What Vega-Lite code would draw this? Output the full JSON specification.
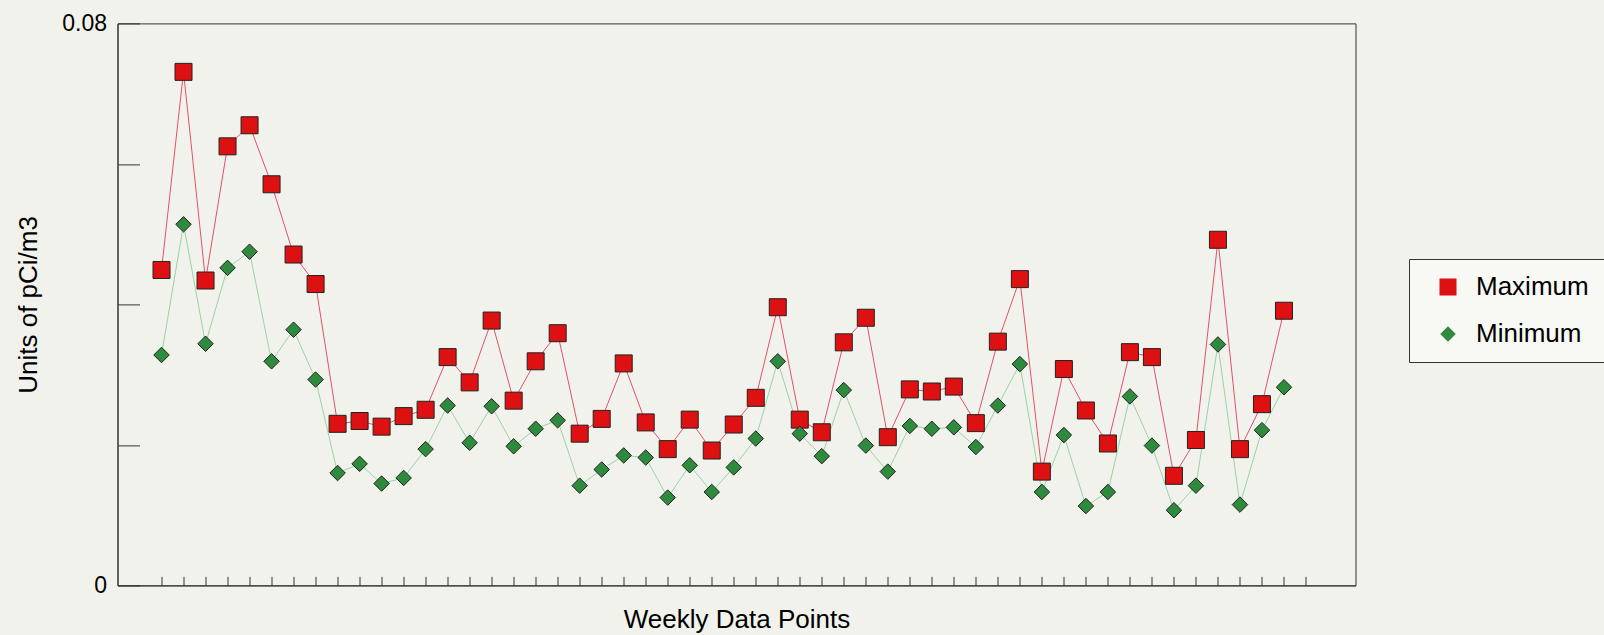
{
  "$schema": "https://vega.github.io/schema/vega-lite/v6.json",
  "autosize": "none",
  "width": 1238,
  "height": 562,
  "padding": {"left": 117.5, "top": 23.4, "right": 248.5, "bottom": 49.6},
  "background": "#f2f2ec",
  "config": {
    "font": "Liberation Sans",
    "view": {"stroke": "#333333", "strokeWidth": 1, "fill": "#f2f2ec"},
    "axis": {"grid": false, "domainColor": "#333333", "tickColor": "#333333", "labelColor": "#000000", "titleColor": "#000000", "titleFontWeight": "normal", "labelFont": "Liberation Sans", "titleFont": "Liberation Sans"},
    "legend": {
      "title": null, "orient": "none", "legendX": 1291.5, "legendY": 235.6,
      "labelFontSize": 26, "labelFont": "Liberation Sans", "labelColor": "#000000",
      "symbolStrokeColor": "#222222", "symbolStrokeWidth": 1,
      "padding": 15, "rowPadding": 21, "symbolOffset": 11, "labelOffset": 15,
      "strokeColor": "#333333", "fillColor": "#f8f8f4", "labelLimit": 400
    }
  },
  "data": {
    "values": [
      {"week": 1, "Maximum": 0.0449, "Minimum": 0.0328},
      {"week": 2, "Maximum": 0.0731, "Minimum": 0.0514},
      {"week": 3, "Maximum": 0.0434, "Minimum": 0.0344},
      {"week": 4, "Maximum": 0.0625, "Minimum": 0.0452},
      {"week": 5, "Maximum": 0.0655, "Minimum": 0.0475},
      {"week": 6, "Maximum": 0.0571, "Minimum": 0.0319},
      {"week": 7, "Maximum": 0.0471, "Minimum": 0.0364},
      {"week": 8, "Maximum": 0.0429, "Minimum": 0.0293},
      {"week": 9, "Maximum": 0.0230, "Minimum": 0.0160},
      {"week": 10, "Maximum": 0.0234, "Minimum": 0.0173},
      {"week": 11, "Maximum": 0.0226, "Minimum": 0.0145},
      {"week": 12, "Maximum": 0.0241, "Minimum": 0.0153},
      {"week": 13, "Maximum": 0.0250, "Minimum": 0.0194},
      {"week": 14, "Maximum": 0.0325, "Minimum": 0.0256},
      {"week": 15, "Maximum": 0.0289, "Minimum": 0.0203},
      {"week": 16, "Maximum": 0.0377, "Minimum": 0.0255},
      {"week": 17, "Maximum": 0.0263, "Minimum": 0.0198},
      {"week": 18, "Maximum": 0.0319, "Minimum": 0.0223},
      {"week": 19, "Maximum": 0.0359, "Minimum": 0.0235},
      {"week": 20, "Maximum": 0.0216, "Minimum": 0.0142},
      {"week": 21, "Maximum": 0.0237, "Minimum": 0.0165},
      {"week": 22, "Maximum": 0.0316, "Minimum": 0.0185},
      {"week": 23, "Maximum": 0.0232, "Minimum": 0.0182},
      {"week": 24, "Maximum": 0.0194, "Minimum": 0.0125},
      {"week": 25, "Maximum": 0.0236, "Minimum": 0.0171},
      {"week": 26, "Maximum": 0.0192, "Minimum": 0.0133},
      {"week": 27, "Maximum": 0.0229, "Minimum": 0.0168},
      {"week": 28, "Maximum": 0.0267, "Minimum": 0.0209},
      {"week": 29, "Maximum": 0.0396, "Minimum": 0.0319},
      {"week": 30, "Maximum": 0.0236, "Minimum": 0.0216},
      {"week": 31, "Maximum": 0.0218, "Minimum": 0.0184},
      {"week": 32, "Maximum": 0.0346, "Minimum": 0.0278},
      {"week": 33, "Maximum": 0.0381, "Minimum": 0.0199},
      {"week": 34, "Maximum": 0.0211, "Minimum": 0.0162},
      {"week": 35, "Maximum": 0.0279, "Minimum": 0.0227},
      {"week": 36, "Maximum": 0.0276, "Minimum": 0.0223},
      {"week": 37, "Maximum": 0.0283, "Minimum": 0.0225},
      {"week": 38, "Maximum": 0.0231, "Minimum": 0.0197},
      {"week": 39, "Maximum": 0.0347, "Minimum": 0.0256},
      {"week": 40, "Maximum": 0.0436, "Minimum": 0.0315},
      {"week": 41, "Maximum": 0.0162, "Minimum": 0.0133},
      {"week": 42, "Maximum": 0.0308, "Minimum": 0.0214},
      {"week": 43, "Maximum": 0.0249, "Minimum": 0.0113},
      {"week": 44, "Maximum": 0.0202, "Minimum": 0.0133},
      {"week": 45, "Maximum": 0.0332, "Minimum": 0.0269},
      {"week": 46, "Maximum": 0.0325, "Minimum": 0.0199},
      {"week": 47, "Maximum": 0.0156, "Minimum": 0.0107},
      {"week": 48, "Maximum": 0.0207, "Minimum": 0.0142},
      {"week": 49, "Maximum": 0.0492, "Minimum": 0.0343},
      {"week": 50, "Maximum": 0.0194, "Minimum": 0.0115},
      {"week": 51, "Maximum": 0.0258, "Minimum": 0.0221},
      {"week": 52, "Maximum": 0.0391, "Minimum": 0.0282}
    ]
  },
  "transform": [{"fold": ["Maximum", "Minimum"], "as": ["series", "value"]}],
  "encoding": {
    "x": {
      "field": "week", "type": "quantitative",
      "scale": {"domain": [-1, 55.25], "nice": false, "zero": false},
      "axis": {
        "values": [1,2,3,4,5,6,7,8,9,10,11,12,13,14,15,16,17,18,19,20,21,22,23,24,25,26,27,28,29,30,31,32,33,34,35,36,37,38,39,40,41,42,43,44,45,46,47,48,49,50,51,52,53],
        "labels": false, "tickSize": -9, "tickWidth": 1,
        "title": "Weekly Data Points", "titleFontSize": 26,
        "titleX": 619, "titleY": 42, "titleBaseline": "alphabetic", "titleAlign": "center"
      }
    },
    "y": {
      "field": "value", "type": "quantitative",
      "scale": {"domain": [0, 0.08], "nice": false},
      "axis": {
        "values": [0, 0.02, 0.04, 0.06, 0.08],
        "labelExpr": "datum.value < 0.01 ? '0' : datum.value > 0.07 ? '0.08' : ''",
        "tickSize": -22, "labelPadding": 33, "labelFontSize": 23,
        "title": "Units of pCi/m3", "titleFontSize": 26,
        "titleX": -80.8, "titleY": 281, "titleAngle": -90, "titleBaseline": "alphabetic", "titleAlign": "center"
      }
    }
  },
  "layer": [
    {
      "transform": [{"filter": "datum.series == 'Minimum'"}],
      "mark": {"type": "line", "strokeWidth": 1, "color": "#98d4a6"}
    },
    {
      "transform": [{"filter": "datum.series == 'Maximum'"}],
      "mark": {"type": "line", "strokeWidth": 1, "color": "#e4506a"}
    },
    {
      "mark": {"type": "point", "filled": true, "stroke": "#222222", "strokeWidth": 1, "opacity": 1},
      "encoding": {
        "shape": {"field": "series", "type": "nominal", "scale": {"domain": ["Maximum", "Minimum"], "range": ["square", "diamond"]},
          "legend": {"labelExpr": "datum.label + '\u00a0\u00a0\u00a0\u00a0\u00a0\u00a0\u00a0'",
            "encode": {"symbols": {"update": {"stroke": {"value": "#222222"}, "strokeWidth": {"value": 1}, "opacity": {"value": 1}}}}}},
        "fill": {"field": "series", "type": "nominal", "scale": {"domain": ["Maximum", "Minimum"], "range": ["#dd1111", "#2e8a3c"]},
          "legend": {"labelExpr": "datum.label + '\u00a0\u00a0\u00a0\u00a0\u00a0\u00a0\u00a0'",
            "encode": {"symbols": {"update": {"stroke": {"value": "#222222"}, "strokeWidth": {"value": 1}, "opacity": {"value": 1}}}}}},
        "size": {"field": "series", "type": "nominal", "scale": {"domain": ["Maximum", "Minimum"], "range": [289, 240]},
          "legend": {"labelExpr": "datum.label + '\u00a0\u00a0\u00a0\u00a0\u00a0\u00a0\u00a0'",
            "encode": {"symbols": {"update": {"stroke": {"value": "#222222"}, "strokeWidth": {"value": 1}, "opacity": {"value": 1}}}}}}
      }
    }
  ]
}
